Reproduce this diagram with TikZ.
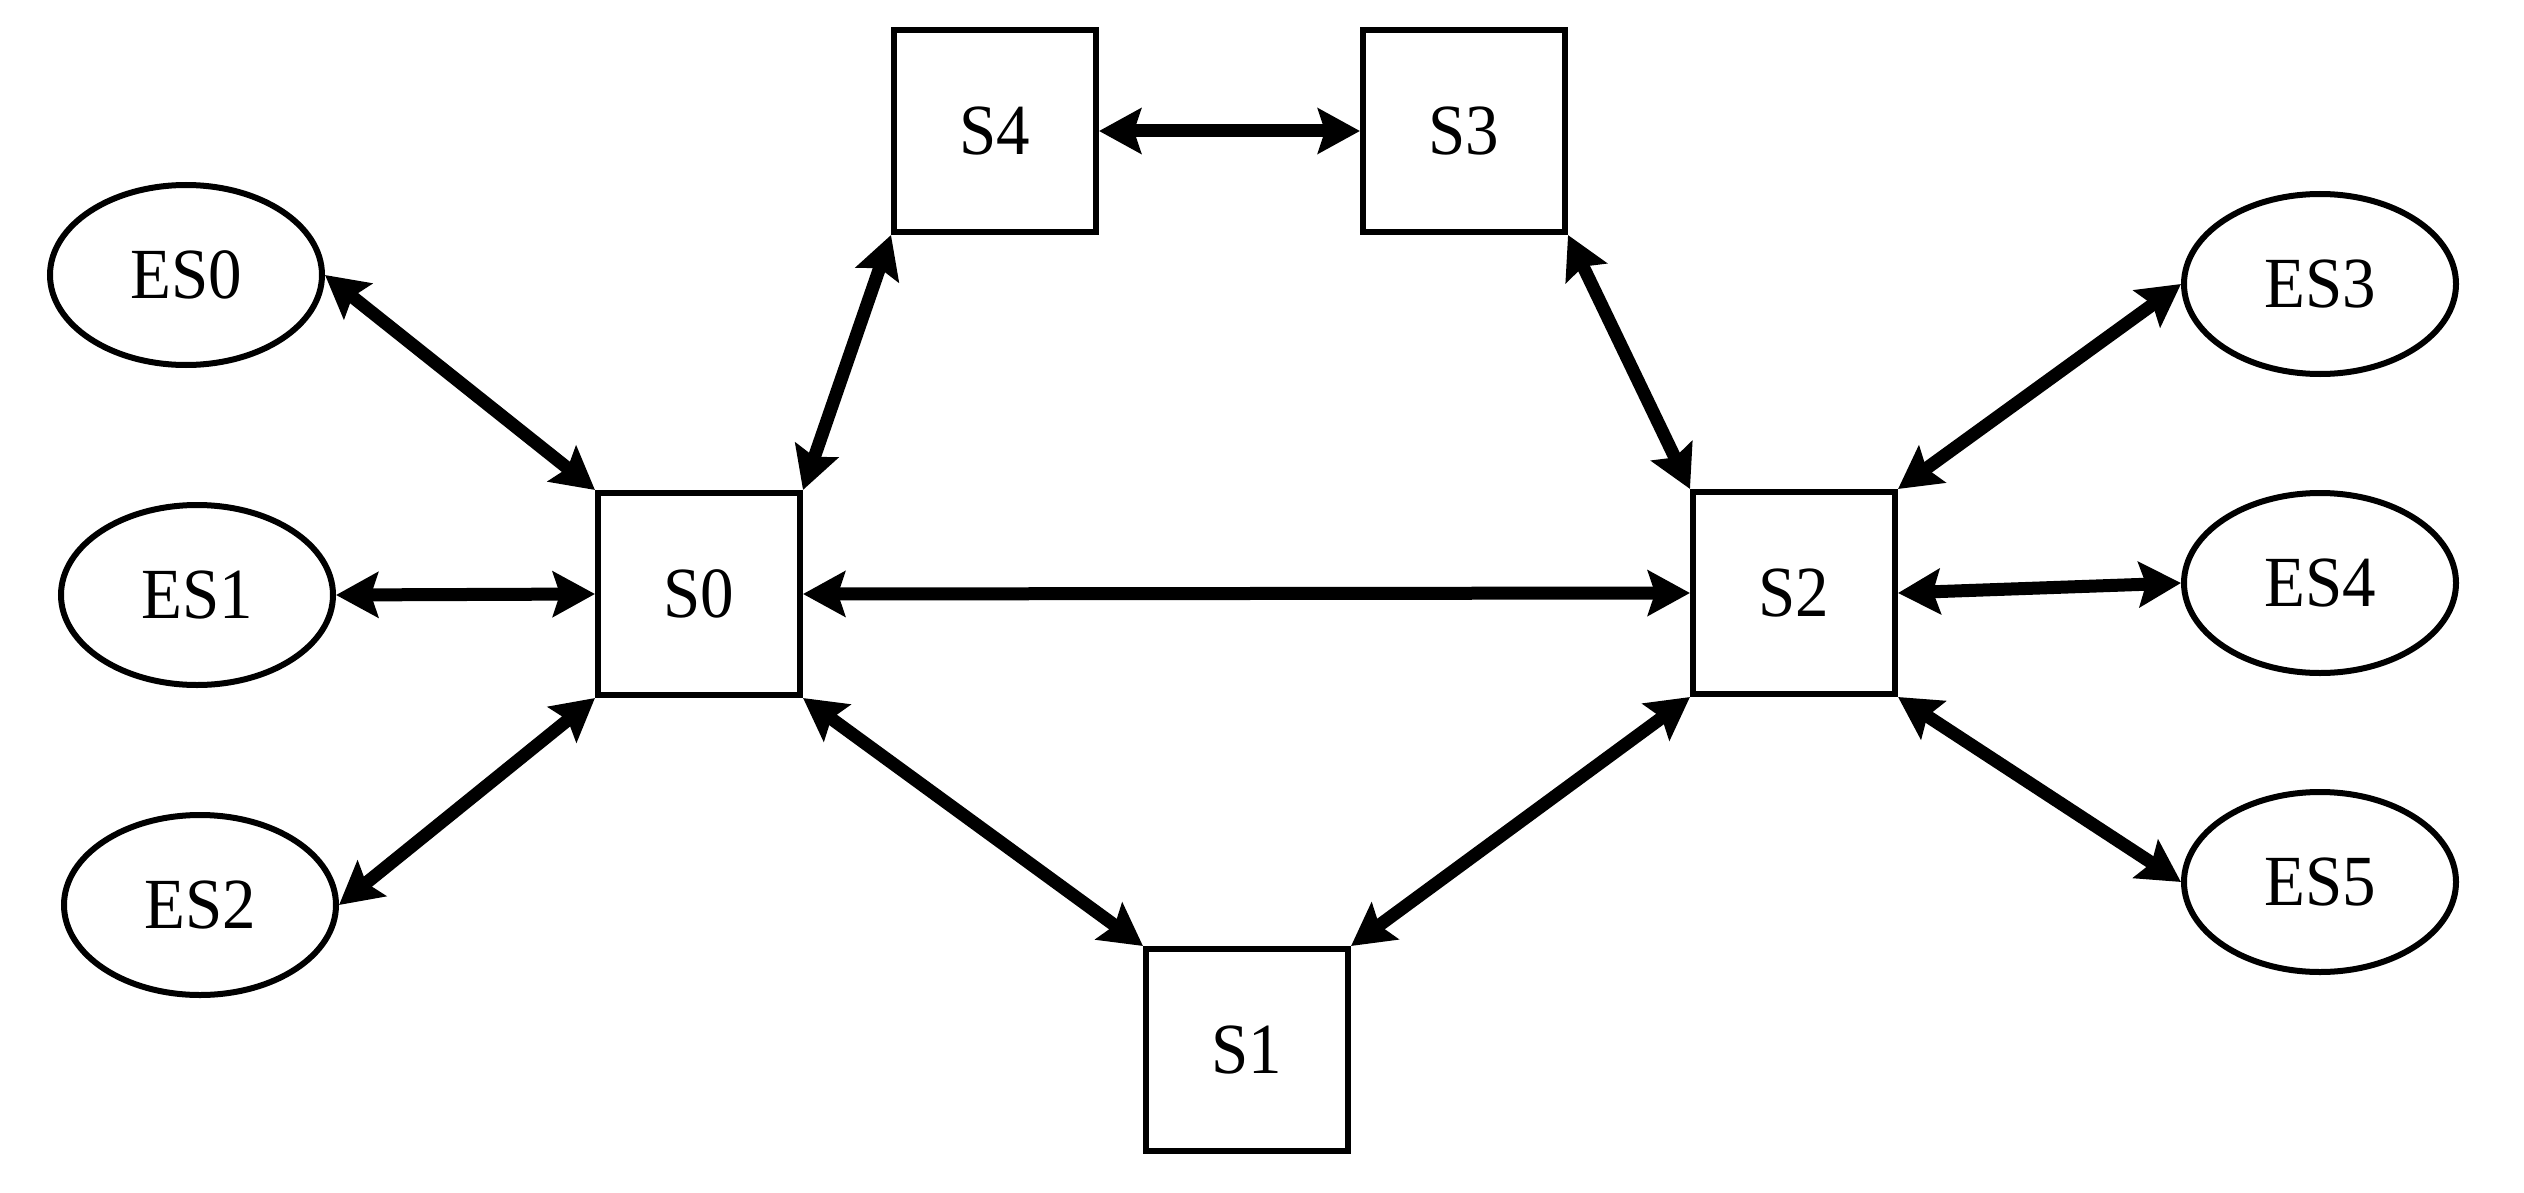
\documentclass[tikz,border=0pt]{standalone}
\usepackage{graphicx}
\usepackage{fontspec}
\setmainfont{Liberation Serif}
\usetikzlibrary{arrows.meta,shapes.geometric}
\newcommand{\lbltxt}[1]{\scalebox{0.93}[1]{#1}}
\begin{document}
\begin{tikzpicture}[x=1pt,y=-1pt,
  boxnode/.style={draw, line width=6pt, minimum width=202pt, minimum height=202pt, inner sep=0pt, font=\fontsize{72}{84}\selectfont},
  esnode/.style={draw, ellipse, line width=6pt, minimum width=272pt, minimum height=180pt, inner sep=0pt, font=\fontsize{72}{84}\selectfont},
  link/.style={line width=13pt, {Stealth[length=42pt,width=45pt,inset=7pt]}-{Stealth[length=42pt,width=45pt,inset=7pt]}}]
\useasboundingbox (0,0) rectangle (2524,1193);
\node[boxnode] (S0) at (699,594) {\lbltxt{S0}};
\node[boxnode] (S1) at (1247,1050) {\lbltxt{S1}};
\node[boxnode] (S2) at (1794,593) {\lbltxt{S2}};
\node[boxnode] (S3) at (1464,131) {\lbltxt{S3}};
\node[boxnode] (S4) at (995,131) {\lbltxt{S4}};
\node[esnode] (ES0) at (186,275) {\lbltxt{ES0}};
\node[esnode] (ES1) at (197,595) {\lbltxt{ES1}};
\node[esnode] (ES2) at (200,905) {\lbltxt{ES2}};
\node[esnode] (ES3) at (2320,284) {\lbltxt{ES3}};
\node[esnode] (ES4) at (2320,583) {\lbltxt{ES4}};
\node[esnode] (ES5) at (2320,882) {\lbltxt{ES5}};
\draw[link] (ES0.east) -- (S0.north west);
\draw[link] (ES1.east) -- (S0.west);
\draw[link] (ES2.east) -- (S0.south west);
\draw[link] (S0.north east) -- (S4.south west);
\draw[link] (S4.east) -- (S3.west);
\draw[link] (S3.south east) -- (S2.north west);
\draw[link] (S0.east) -- (S2.west);
\draw[link] (S0.south east) -- (S1.north west);
\draw[link] (S2.south west) -- (S1.north east);
\draw[link] (S2.north east) -- (ES3.west);
\draw[link] (S2.east) -- (ES4.west);
\draw[link] (S2.south east) -- (ES5.west);
\end{tikzpicture}
\end{document}
